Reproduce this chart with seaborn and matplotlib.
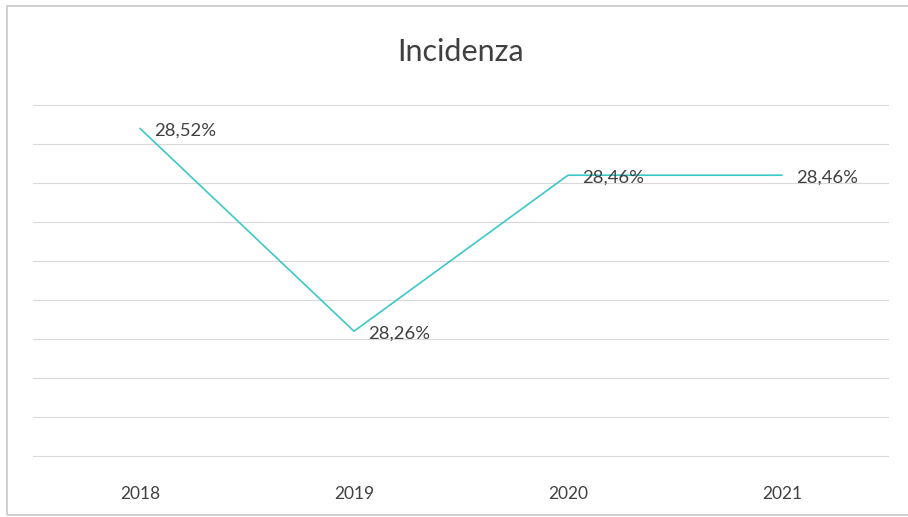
import matplotlib
matplotlib.use("Agg")
import matplotlib.pyplot as plt
import seaborn as sns
import pandas as pd
from matplotlib.patches import Rectangle

# data
years = ["2018", "2019", "2020", "2021"]
incidenza = [28.52, 28.26, 28.46, 28.46]
labels = ["28,52%", "28,26%", "28,46%", "28,46%"]

df = pd.DataFrame({"anno": years, "incidenza": incidenza})

sns.set_style("white")
plt.rcParams["font.family"] = ["Lato", "DejaVu Sans"]

fig = plt.figure(figsize=(9.08, 5.17), dpi=100)
ax = fig.add_axes([33 / 908, (517 - 457) / 517, (889 - 33) / 908, (457 - 104) / 517])

sns.lineplot(data=df, x="anno", y="incidenza", ax=ax, color="#3CC8C8", linewidth=1.2)

ax.set_xlim(-0.5, 3.5)
ax.set_ylim(28.0987, 28.5513)
ax.set_yticks([28.10 + 0.05 * i for i in range(10)])
ax.yaxis.grid(True, color="#D9D9D9", linewidth=0.8)
ax.set_yticklabels([])
ax.tick_params(axis="y", length=0)
ax.tick_params(axis="x", length=0, pad=21, labelsize=12.5, labelcolor="#404040")
ax.set_xlabel("")
ax.set_ylabel("")
for s in ax.spines.values():
    s.set_visible(False)

for i, lab in enumerate(labels):
    ax.annotate(lab, (i, incidenza[i]), xytext=(14, -2), textcoords="offset pixels",
                ha="left", va="center", fontsize=13.3, color="#404040")

fig.text(461 / 908, 1 - 52 / 517, "Incidenza", ha="center", va="center",
         fontsize=22, color="#404040")

# outer frame of the chart area (right side runs off the image)
fig.patches.append(Rectangle((7 / 908, 2 / 517), 920 / 908, 509 / 517,
                             transform=fig.transFigure, fill=False,
                             edgecolor="#C8C8C8", linewidth=1.2))

fig.savefig("out.png", dpi=100)
